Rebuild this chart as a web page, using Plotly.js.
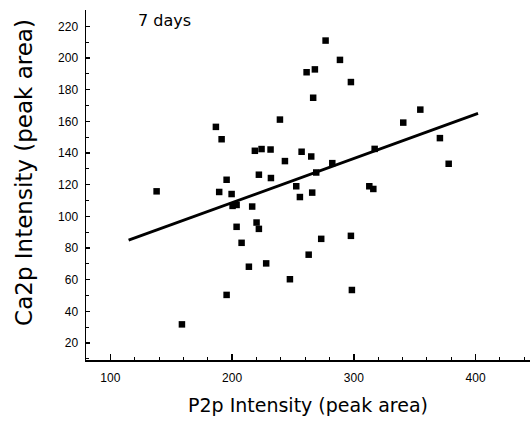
<!DOCTYPE html>
<html>
<head>
<meta charset="utf-8">
<script src="https://cdn.plot.ly/plotly-3.0.1.min.js"></script>
<style>html,body{margin:0;padding:0;background:#fff;}#chart{width:530px;height:423px;}</style>
</head>
<body>
<div id="chart"></div>
<script>
// P2p intensity (x) and Ca2p intensity (y), 7 days
const p2p = [138, 158.8, 186.7, 191.4, 195.5, 189.4, 199.6, 200.4, 203.7, 203.7,
             207.8, 195.5, 213.8, 216.5, 218.7, 220.1, 222, 222, 224.2, 228,
             231.6, 231.9, 239.3, 243.4, 247.5, 252.7, 255.7, 257.1, 261.2, 262.9,
             265, 265.8, 266.6, 268, 269.1, 273.2, 276.8, 282.3, 288.6, 297.6,
             297.6, 298.4, 312.7, 316, 317.1, 340.6, 354.6, 370.7, 377.9];
const ca2p = [115.8, 31.8, 156.5, 148.7, 123.1, 115.4, 114.1, 106.6, 107.2, 93.4,
              83.3, 50.4, 68.2, 106.2, 141.4, 96.1, 92.1, 126.3, 142.5, 70.3,
              142.2, 124.2, 161.1, 134.9, 60.3, 119, 112.2, 140.8, 191, 75.8,
              137.8, 115, 174.9, 192.8, 127.7, 85.8, 211, 133.6, 198.8, 184.8,
              87.7, 53.5, 119, 117.3, 142.6, 159.2, 167.4, 149.4, 133.2];
// fitted line end points
const fitX = [115, 402];
const fitY = [85, 165];
const xTicks = [100, 200, 300, 400];
const yTicks = [20, 40, 60, 80, 100, 120, 140, 160, 180, 200, 220];

const font = "Liberation Sans, Arial, sans-serif";
const tfont = "DejaVu Sans, sans-serif";
const data = [
  {x: p2p, y: ca2p, type: 'scatter', mode: 'markers',
   marker: {symbol: 'square', size: 6.5, color: '#000'}, hoverinfo: 'x+y'},
  {x: fitX, y: fitY, type: 'scatter', mode: 'lines',
   line: {color: '#000', width: 2.8}, hoverinfo: 'skip'}
];
const layout = {
  width: 530, height: 423,
  margin: {l: 86, r: 0, t: 10, b: 63},
  paper_bgcolor: '#fff', plot_bgcolor: '#fff',
  showlegend: false,
  font: {family: font, color: '#000'},
  xaxis: {
    range: [80, 444.7], showline: true, linecolor: '#000', linewidth: 1.5,
    ticks: 'inside', ticklen: 6, tickwidth: 1.5, tickcolor: '#000',
    tickmode: 'array', tickvals: xTicks, ticktext: xTicks.map(String),
    minor: {dtick: 20, tick0: 0, ticks: 'inside', ticklen: 3, tickwidth: 1, tickcolor: '#000'},
    showgrid: false, zeroline: false,
    tickfont: {size: 12, family: font},
    ticklabelstandoff: 6,
    title: {text: 'P2p Intensity (peak area)', font: {size: 19, family: tfont}, standoff: 15}
  },
  yaxis: {
    range: [9.3, 230.3], showline: true, linecolor: '#000', linewidth: 1.5,
    ticks: 'inside', ticklen: 4, tickwidth: 1.2, tickcolor: '#000',
    tickmode: 'array', tickvals: yTicks, ticktext: yTicks.map(String),
    minor: {dtick: 10, tick0: 0, ticks: 'inside', ticklen: 3, tickwidth: 1, tickcolor: '#000'},
    showgrid: false, zeroline: false,
    tickfont: {size: 12, family: font},
    ticklabelstandoff: 4
  },
  annotations: [
    {text: '7 days', xref: 'paper', yref: 'paper', x: 0.176, y: 0.969,
     xanchor: 'center', yanchor: 'middle', showarrow: false,
     font: {size: 16, family: tfont, color: '#000'}},
    {text: 'Ca2p Intensity (peak area)', xref: 'paper', yref: 'paper',
     x: -0.14, y: 0.537, textangle: -90, xanchor: 'center', yanchor: 'middle',
     showarrow: false, font: {size: 23, family: tfont, color: '#000'}}
  ]
};
Plotly.newPlot('chart', data, layout, {displayModeBar: false, staticPlot: true});
</script>
</body>
</html>
